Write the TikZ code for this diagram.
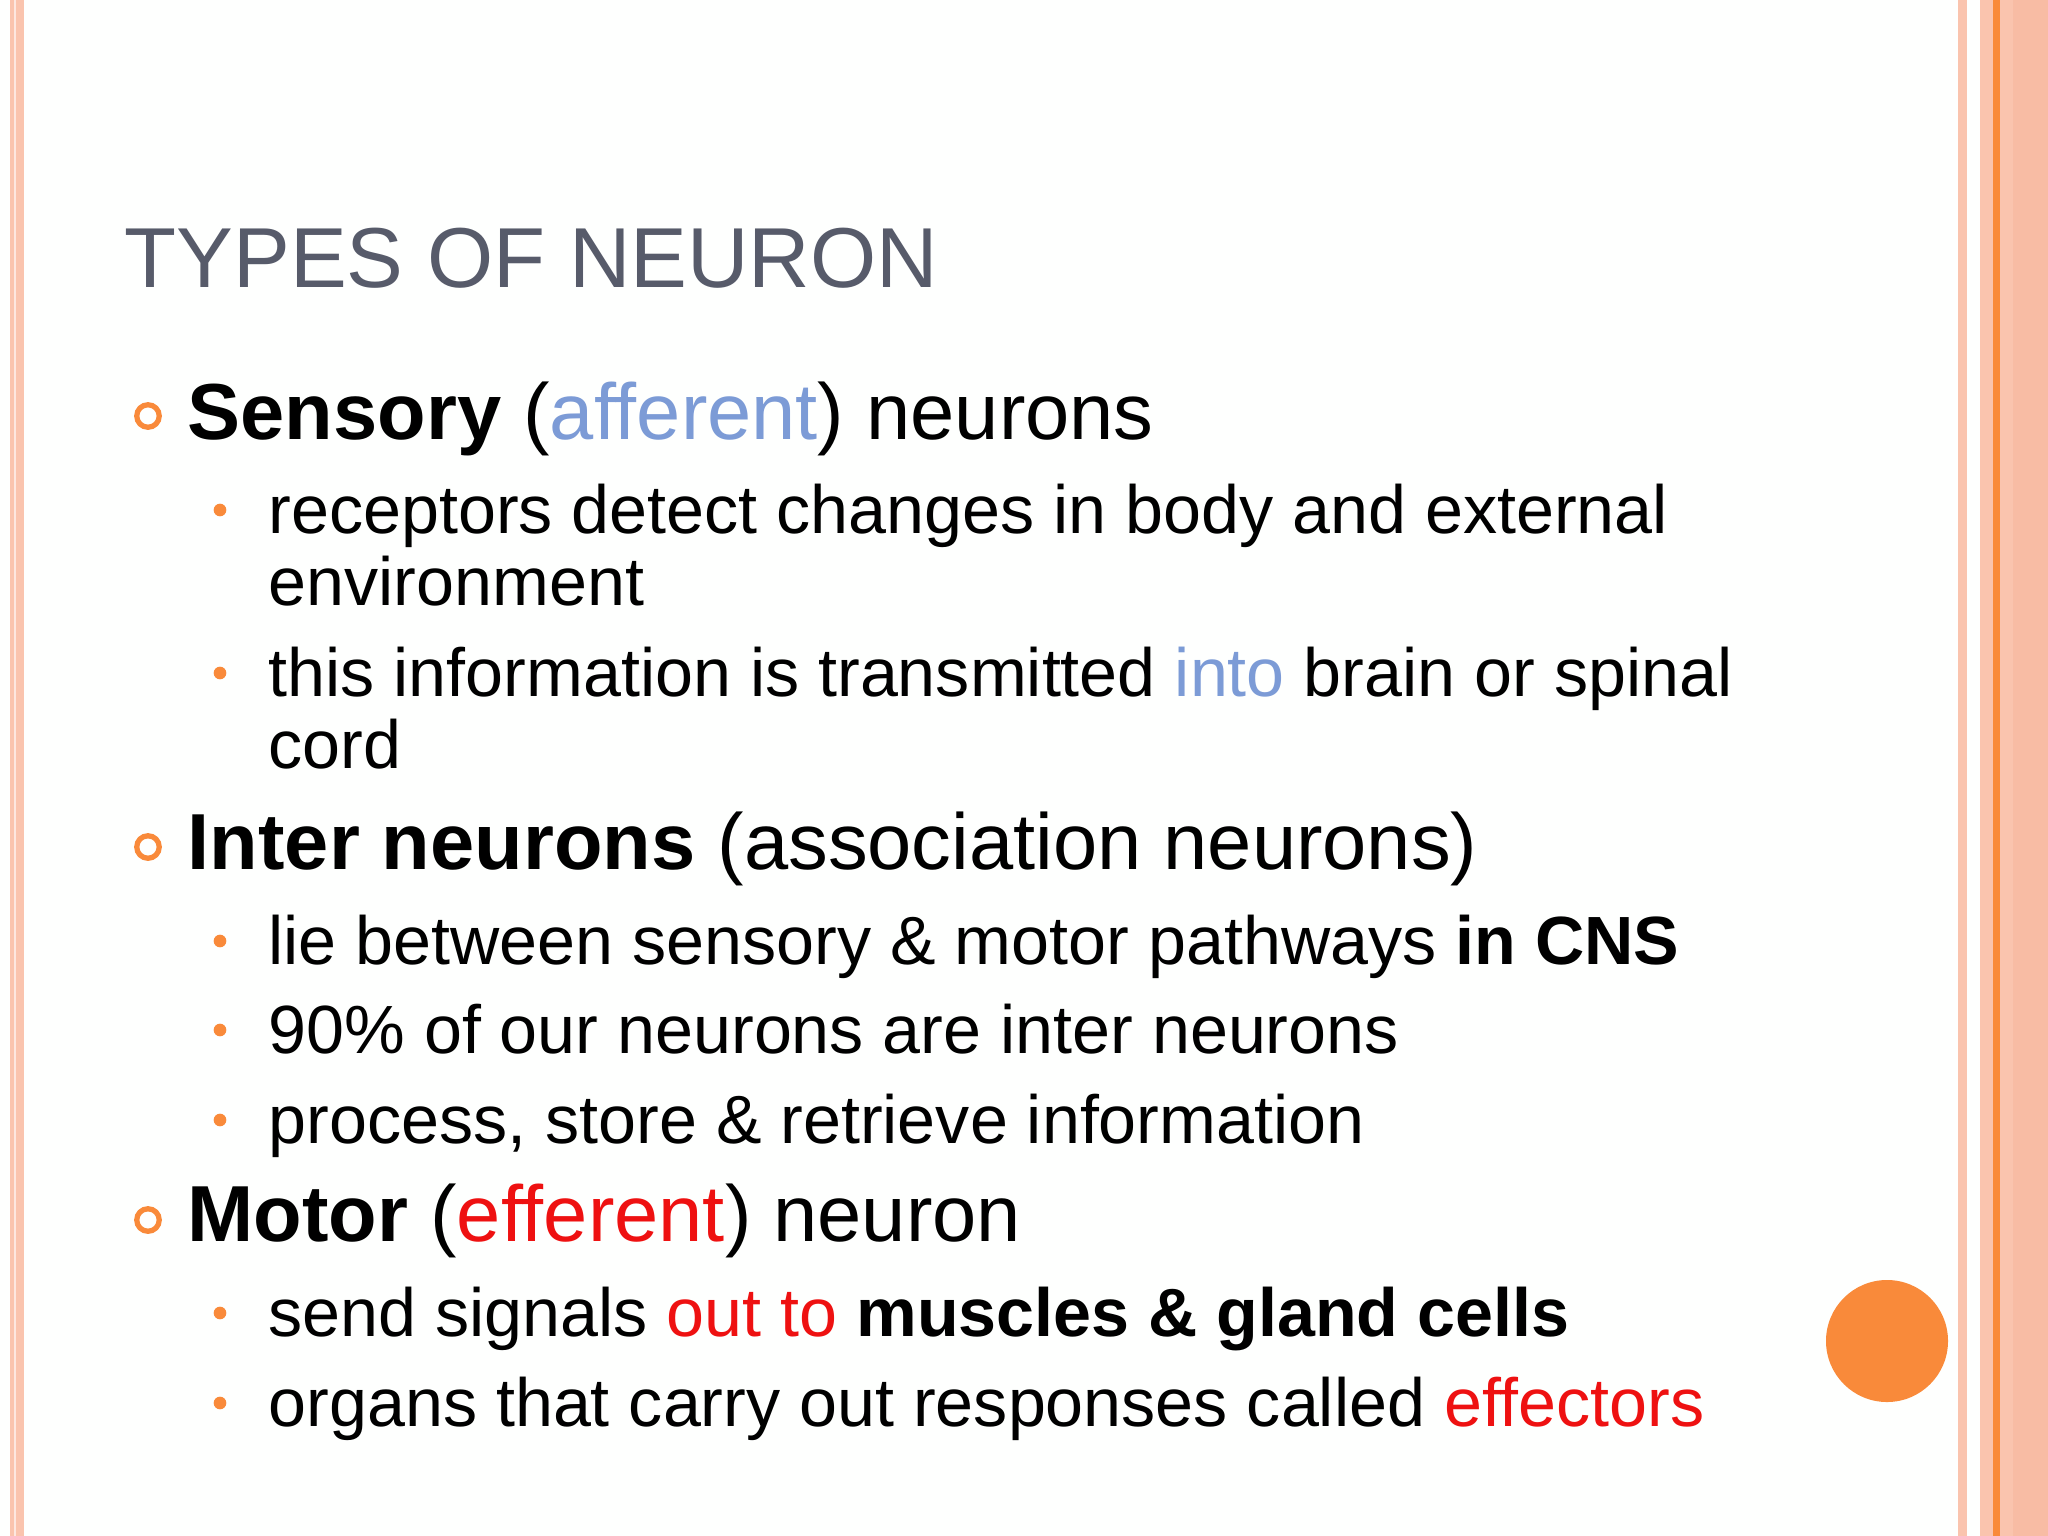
\documentclass[tikz,border=0pt]{standalone}
\usepackage{fontspec}
\setmainfont{Liberation Sans}
\definecolor{peach}{HTML}{FAC4AE}
\definecolor{peachd}{HTML}{F8BCA4}
\definecolor{orng}{HTML}{F98A3A}
\definecolor{bl}{HTML}{7C9BD6}
\definecolor{rd}{HTML}{EE1111}
\definecolor{ttl}{HTML}{575B6A}
\begin{document}
\begin{tikzpicture}[x=0.01cm,y=-0.01cm,
  ttlf/.style={anchor=base west,inner sep=0,text=ttl,font=\fontsize{24.2}{28}\selectfont},
  lone/.style={anchor=base west,inner sep=0,font=\fontsize{22.6}{26}\selectfont},
  ltwo/.style={anchor=base west,inner sep=0,font=\fontsize{19.4}{23}\selectfont},
  ring/.style={draw=orng,line width=1.5pt,circle,minimum size=6.4pt,inner sep=0},
  dot/.style={fill=orng,circle,minimum size=3.6pt,inner sep=0}]
\fill[white!98!green!20!white] (0,0) rectangle (2048,1536);
\useasboundingbox (0,0) rectangle (2048,1536);
% left stripes
\fill[peach] (10,0) rectangle (24,1536);
\fill[white!60!peach] (14,0) rectangle (16,1536);
% right stripes
\fill[peach] (1958,0) rectangle (1967,1536);
\fill[peach] (1980,0) rectangle (2048,1536);
\fill[peachd] (2013,0) rectangle (2048,1536);
\draw[orng,line width=2] (1996,0) -- (1996,1536);
% title
\node[ttlf] (title) at (124,287) {TYPES OF NEURON};
% level 1
\node[ring] (b1) at (148,416) {};
\node[lone] (l1) at (187,439) {\textbf{Sensory} (\textcolor{bl}{afferent}) neurons};
\node[dot] (d1) at (220,510) {};
\node[ltwo] (t1) at (268,533) {receptors detect changes in body and external};
\node[ltwo] (t1b) at (268,605) {environment};
\node[dot] (d2) at (220,673) {};
\node[ltwo] (t2) at (268,696) {this information is transmitted \textcolor{bl}{into} brain or spinal};
\node[ltwo] (t2b) at (268,768) {cord};
\node[ring] (b2) at (148,847) {};
\node[lone] (l2) at (187,869) {\textbf{Inter neurons} (association neurons)};
\node[dot] (d3) at (220,941) {};
\node[ltwo] (t3) at (268,964) {lie between sensory \& motor pathways \textbf{in CNS}};
\node[dot] (d4) at (220,1030) {};
\node[ltwo] (t4) at (268,1053) {90\% of our neurons are inter neurons};
\node[dot] (d5) at (220,1120) {};
\node[ltwo] (t5) at (268,1143) {process, store \& retrieve information};
\node[ring] (b3) at (148,1220) {};
\node[lone] (l3) at (187,1241) {\textbf{Motor} (\textcolor{rd}{efferent}) neuron};
\node[dot] (d6) at (220,1313) {};
\node[ltwo] (t6) at (268,1336) {send signals \textcolor{rd}{out to} \textbf{muscles \& gland cells}};
\node[dot] (d7) at (220,1403) {};
\node[ltwo] (t7) at (268,1426) {organs that carry out responses called \textcolor{rd}{effectors}};
% big circle
\node[fill=orng,circle,minimum size=34.7pt,inner sep=0] (big) at (1887,1341) {};
\end{tikzpicture}
\end{document}
